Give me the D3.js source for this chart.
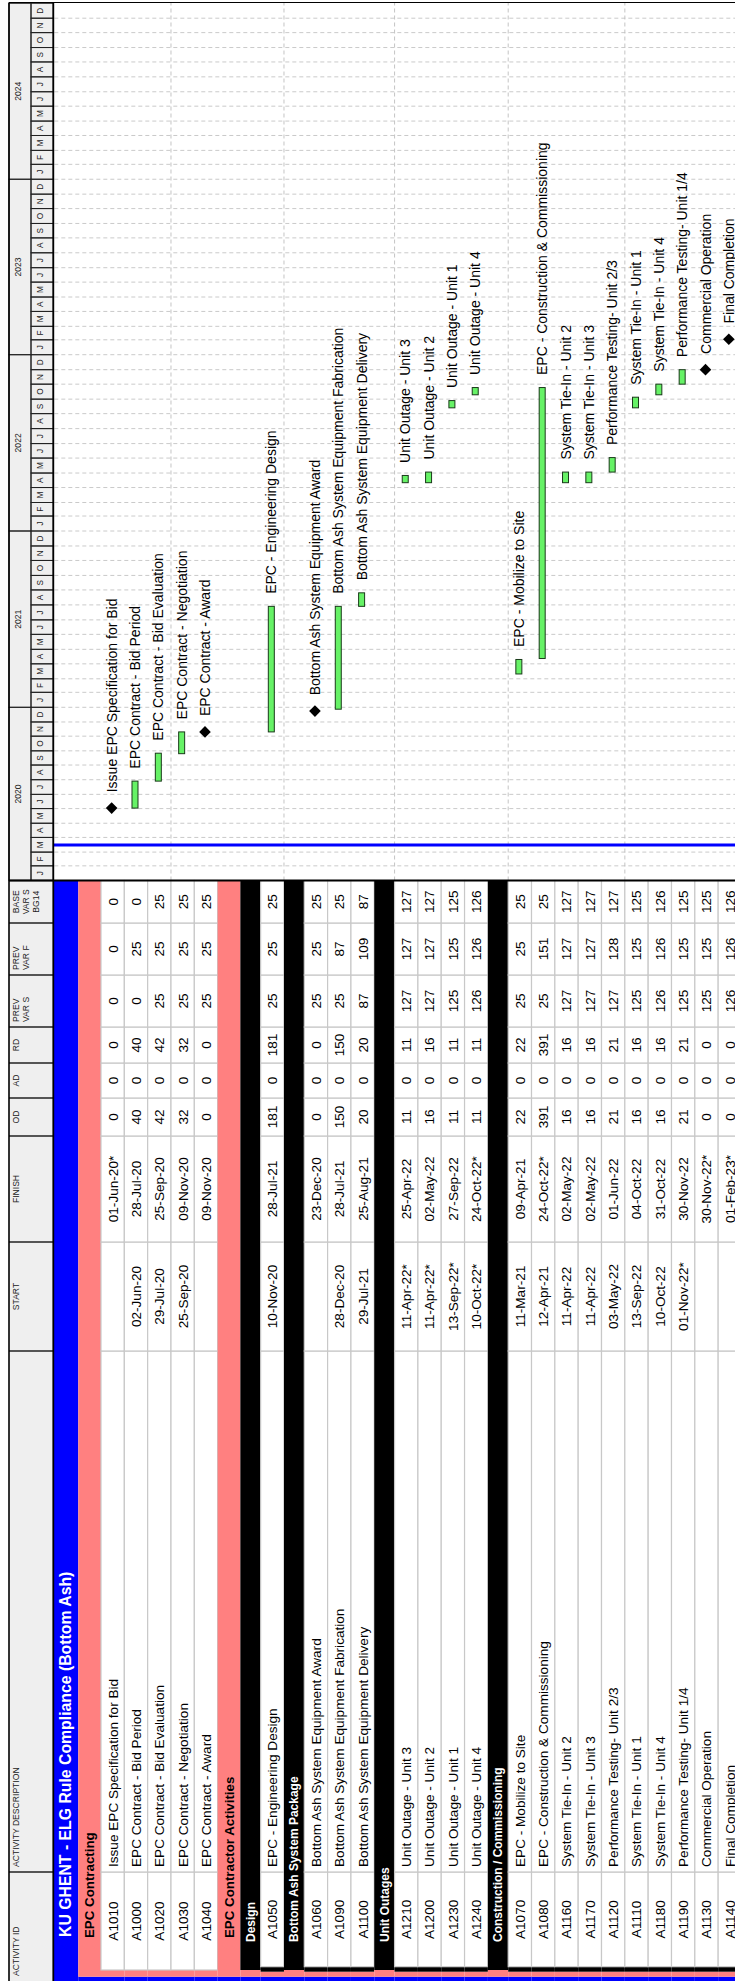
<!DOCTYPE html>
<html><head><meta charset="utf-8">
<script src="https://cdn.jsdelivr.net/npm/d3@7"></script>
<style>
html,body{margin:0;padding:0;background:#fff;}
svg{display:block;}
text{font-family:"Liberation Sans",Arial,Helvetica,sans-serif;}
</style>
</head><body>
<svg id="c" width="735" height="1981"></svg>
<script>
// ---------------- DATA ----------------
const groupNames = ["KU GHENT - ELG Rule Compliance (Bottom Ash)", "EPC Contracting", "EPC Contractor Activities",
  "Design", "Bottom Ash System Package", "Unit Outages", "Construction / Commissioning"];
const groupParent = [-1, 0, 0, 2, 2, 2, 2];

const activityIds = ["A1010","A1000","A1020","A1030","A1040","A1050","A1060","A1090","A1100",
  "A1210","A1200","A1230","A1240","A1070","A1080","A1160","A1170","A1120","A1110","A1180","A1190","A1130","A1140"];
const descriptions = ["Issue EPC Specification for Bid","EPC Contract - Bid Period","EPC Contract - Bid Evaluation",
  "EPC Contract - Negotiation","EPC Contract - Award","EPC - Engineering Design","Bottom Ash System Equipment Award",
  "Bottom Ash System Equipment Fabrication","Bottom Ash System Equipment Delivery","Unit Outage - Unit 3",
  "Unit Outage - Unit 2","Unit Outage - Unit 1","Unit Outage - Unit 4","EPC - Mobilize to Site",
  "EPC - Construction & Commissioning","System Tie-In - Unit 2","System Tie-In - Unit 3","Performance Testing- Unit 2/3",
  "System Tie-In - Unit 1","System Tie-In - Unit 4","Performance Testing- Unit 1/4","Commercial Operation","Final Completion"];
const activityGroup = [1,1,1,1,1,3,4,4,4,5,5,5,5,6,6,6,6,6,6,6,6,6,6];
const starts = ["","02-Jun-20","29-Jul-20","25-Sep-20","","10-Nov-20","","28-Dec-20","29-Jul-21",
  "11-Apr-22*","11-Apr-22*","13-Sep-22*","10-Oct-22*","11-Mar-21","12-Apr-21","11-Apr-22","11-Apr-22",
  "03-May-22","13-Sep-22","10-Oct-22","01-Nov-22*","",""];
const finishes = ["01-Jun-20*","28-Jul-20","25-Sep-20","09-Nov-20","09-Nov-20","28-Jul-21","23-Dec-20","28-Jul-21","25-Aug-21",
  "25-Apr-22","02-May-22","27-Sep-22","24-Oct-22*","09-Apr-21","24-Oct-22*","02-May-22","02-May-22",
  "01-Jun-22","04-Oct-22","31-Oct-22","30-Nov-22","30-Nov-22*","01-Feb-23*"];
const od       = [0,40,42,32,0,181,0,150,20,11,16,11,11,22,391,16,16,21,16,16,21,0,0];
const ad       = [0,0,0,0,0,0,0,0,0,0,0,0,0,0,0,0,0,0,0,0,0,0,0];
const rd       = [0,40,42,32,0,181,0,150,20,11,16,11,11,22,391,16,16,21,16,16,21,0,0];
const prevVarS = [0,0,25,25,25,25,25,25,87,127,127,125,126,25,25,127,127,127,125,126,125,125,126];
const prevVarF = [0,25,25,25,25,25,25,87,109,127,127,125,126,25,151,127,127,128,125,126,125,125,126];
const baseVarS = [0,0,25,25,25,25,25,25,87,127,127,125,126,25,25,127,127,127,125,126,125,125,126];

const columnHeaders = [["ACTIVITY ID"],["ACTIVITY DESCRIPTION"],["START"],["FINISH"],["OD"],["AD"],["RD"],
  ["PREV","VAR S"],["PREV","VAR F"],["BASE","VAR S","BG14"]];
const monthLetters = ["J","F","M","A","M","J","J","A","S","O","N","D"];
const years = [2020, 2021, 2022, 2023, 2024];
const dataDate = "16-Mar-20";

// ---------------- LAYOUT ----------------
const W = 1981;            // landscape width (becomes page height)
const BOTTOM = 745;        // landscape bottom (cropped by page width)
const colEdges = [0,109,630,739,845,883,918,954,1006,1058,1100.5];
const colAlign = ["start","start","middle","middle","middle","middle","middle","start","start","middle"];
const TOP = 9, YEAR_B = 31, HEAD_B = 53.3, RIGHT = 1978.5;
const groupColor = ["#0000ff","#ff8080","#000000"];
const groupText = ["#ffffff","#000000","#ffffff"];
const groupFont = [15.8, 13.3, 12];
const groupTextX = [44, 43, 39];
const groupH = [25, 22.7, 20.3];
const ACT_H = 23.33;
const indents = {0:[0], 1:[0,4.3], 2:[0,4.3,11], 3:[0,4.3,9.3,14.3]};

const svg = d3.select("#c");
const g = svg.append("g").attr("transform", `translate(0,${W}) rotate(-90)`);

const parse = d3.timeParse("%d-%b-%y");
const pd = s => parse(s.replace("*",""));
const x = d3.scaleTime()
  .domain([new Date(2020,0,1), new Date(2021,0,1), new Date(2023,0,1), new Date(2025,0,1)])
  .range([1100.5, 1273.7, 1626.3, 1977.7]);

// build rows
function chain(gi){ const c=[]; while(gi>=0){ c.unshift(gi); gi=groupParent[gi]; } return c; }
const rows = [];
let prev = [];
activityIds.forEach((id,i)=>{
  const c = chain(activityGroup[i]);
  let k=0; while(k<c.length && prev[k]===c[k]) k++;
  for(;k<c.length;k++) rows.push({type:"group", g:c[k], level:k});
  prev = c;
  rows.push({type:"act", i, depth:c.length});
});
let yy = HEAD_B;
rows.forEach(r=>{
  r.h = r.type==="group" ? groupH[r.level] : ACT_H;
  r.y0 = yy; yy += r.h; r.y1 = yy; r.cy = (r.y0+r.y1)/2;
});

// ---------------- TABLE ----------------
const tbl = g.append("g");
rows.forEach(r=>{
  const depth = r.type==="group" ? r.level : r.depth;
  const ed = indents[depth];
  for(let k=0;k<ed.length-1;k++){
    tbl.append("rect").attr("x",ed[k]).attr("y",r.y0).attr("width",ed[k+1]-ed[k]).attr("height",r.h)
      .attr("fill",groupColor[k]);
  }
  const x0 = ed[ed.length-1];
  if(r.type==="group"){
    tbl.append("rect").attr("x",x0).attr("y",r.y0).attr("width",colEdges[10]-x0).attr("height",r.h)
      .attr("fill",groupColor[r.level]);
    tbl.append("text").attr("x",groupTextX[r.level]).attr("y",r.cy).attr("dy","0.36em")
      .attr("font-size",groupFont[r.level]).attr("font-weight","bold").attr("fill",groupText[r.level])
      .text(groupNames[r.g]);
  } else {
    const i = r.i;
    const vals = [activityIds[i], descriptions[i], starts[i], finishes[i], od[i], ad[i], rd[i], prevVarS[i], prevVarF[i], baseVarS[i]];
    vals.forEach((v,c)=>{
      const cx0 = c===0 ? x0 : colEdges[c], cx1 = colEdges[c+1];
      tbl.append("rect").attr("x",cx0).attr("y",r.y0).attr("width",cx1-cx0).attr("height",r.h)
        .attr("fill","#fff").attr("stroke","#c8c8c8").attr("stroke-width",1.2);
      const t = tbl.append("text").attr("y",r.cy).attr("dy","0.36em").attr("font-size",13.6).attr("fill","#000");
      if(c===1){ t.attr("x",cx0+5).attr("text-anchor","start"); }
      else { t.attr("x",(cx0+cx1)/2).attr("text-anchor","middle"); }
      t.text(v);
    });
  }
});

// ---------------- HEADER ----------------
const hd = g.append("g");
hd.append("rect").attr("x",0).attr("y",TOP).attr("width",RIGHT).attr("height",HEAD_B-TOP).attr("fill","#efefef");
columnHeaders.forEach((lines,c)=>{
  const a = colEdges[c], b = colEdges[c+1];
  hd.append("line").attr("x1",b).attr("x2",b).attr("y1",TOP).attr("y2",HEAD_B).attr("stroke","#222").attr("stroke-width",1.3);
  lines.forEach((s,li)=>{
    const t = hd.append("text").attr("y",18.6+li*10).attr("font-size",8.6).attr("fill","#222").text(s);
    if(colAlign[c]==="start") t.attr("x",a+5).attr("text-anchor","start");
    else t.attr("x",(a+b)/2).attr("text-anchor","middle");
  });
});
years.forEach(yr=>{
  const a = x(new Date(yr,0,1)), b = x(new Date(yr+1,0,1));
  hd.append("rect").attr("x",a).attr("y",TOP).attr("width",b-a).attr("height",YEAR_B-TOP)
    .attr("fill","none").attr("stroke","#222").attr("stroke-width",1);
  hd.append("text").attr("x",(a+b)/2).attr("y",(TOP+YEAR_B)/2).attr("dy","0.1em").attr("text-anchor","middle")
    .attr("font-size",8.6).attr("fill","#222").text(yr);
  monthLetters.forEach((m,mi)=>{
    const ma = x(new Date(yr,mi,1)), mb = x(new Date(yr,mi+1,1));
    hd.append("rect").attr("x",ma).attr("y",YEAR_B).attr("width",mb-ma).attr("height",HEAD_B-YEAR_B)
      .attr("fill","none").attr("stroke","#222").attr("stroke-width",1);
    hd.append("text").attr("x",(ma+mb)/2).attr("y",(YEAR_B+HEAD_B)/2).attr("dy","0.1em").attr("text-anchor","middle")
      .attr("font-size",8.2).attr("fill","#222").text(m);
  });
});

// ---------------- TIMELINE GRID ----------------
const grid = g.append("g");
const monthStarts = d3.timeMonth.range(new Date(2020,1,1), new Date(2025,0,1));
grid.selectAll("line.m").data(monthStarts).join("line")
  .attr("x1",d=>x(d)).attr("x2",d=>x(d)).attr("y1",HEAD_B+1).attr("y2",BOTTOM)
  .attr("stroke","#c4c4c4").attr("stroke-width",0.9).attr("stroke-dasharray","4,3");
rows.forEach((r,ri)=>{
  if((ri+1)%5===0){
    grid.append("line").attr("x1",colEdges[10]).attr("x2",RIGHT).attr("y1",r.y1).attr("y2",r.y1)
      .attr("stroke","#bdbdbd").attr("stroke-width",0.9).attr("stroke-dasharray","4,3");
  }
});
grid.append("line").attr("x1",x(pd(dataDate))).attr("x2",x(pd(dataDate))).attr("y1",HEAD_B).attr("y2",BOTTOM)
  .attr("stroke","#0000ff").attr("stroke-width",3);

// ---------------- BARS ----------------
const bars = g.append("g");
rows.filter(r=>r.type==="act").forEach(r=>{
  const i = r.i, cy = r.cy - 1;
  const fEnd = d3.timeDay.offset(pd(finishes[i]), 1);
  let labelX;
  if(starts[i]===""){
    const cx = x(fEnd), s = 5.8;
    bars.append("path").attr("d",`M${cx-s},${cy}L${cx},${cy-s}L${cx+s},${cy}L${cx},${cy+s}Z`).attr("fill","#000");
    labelX = cx + s + 10;
  } else {
    const a = x(pd(starts[i])), b = x(fEnd);
    bars.append("rect").attr("x",a).attr("y",cy-3).attr("width",b-a).attr("height",6)
      .attr("fill","#66f266").attr("stroke","#1a3a1a").attr("stroke-width",1);
    labelX = b + 12.5;
  }
  bars.append("text").attr("x",labelX).attr("y",cy).attr("dy","0.36em").attr("font-size",14)
    .attr("fill","#000").text(descriptions[i]);
});

// ---------------- BORDERS ----------------
const bd = g.append("g");
bd.append("line").attr("x1",0).attr("x2",RIGHT).attr("y1",TOP).attr("y2",TOP).attr("stroke","#000").attr("stroke-width",1.6);
bd.append("line").attr("x1",0).attr("x2",RIGHT).attr("y1",HEAD_B).attr("y2",HEAD_B).attr("stroke","#000").attr("stroke-width",1.8);
bd.append("line").attr("x1",RIGHT).attr("x2",RIGHT).attr("y1",TOP).attr("y2",BOTTOM).attr("stroke","#000").attr("stroke-width",1.2);
bd.append("line").attr("x1",colEdges[10]).attr("x2",colEdges[10]).attr("y1",TOP).attr("y2",BOTTOM).attr("stroke","#000").attr("stroke-width",2);
</script>
</body></html>
